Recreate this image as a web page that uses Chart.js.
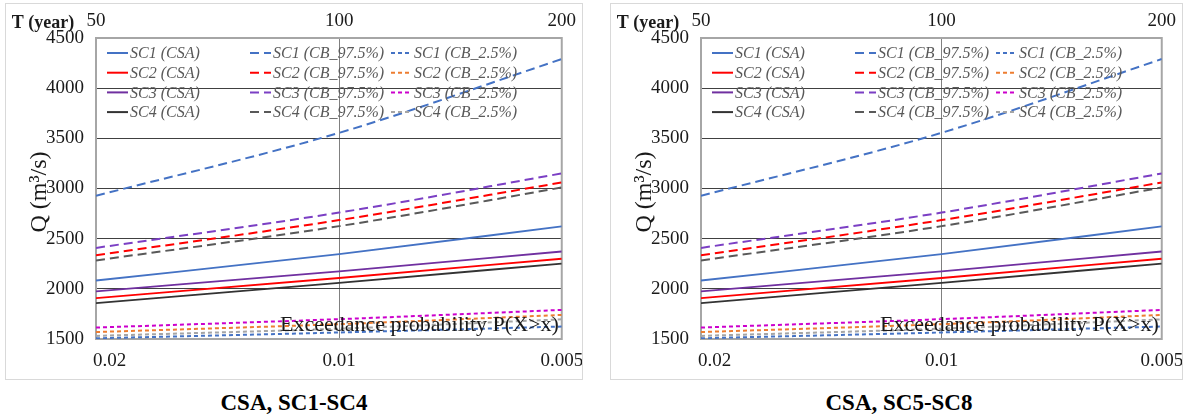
<!DOCTYPE html>
<html>
<head>
<meta charset="utf-8">
<script src="https://cdn.jsdelivr.net/npm/chart.js@4.4.1/dist/chart.umd.min.js"></script>
<style>
    body { margin: 0; background: #fff; width: 1187px; height: 414px; position: relative; overflow: hidden; }
    .panel { position: absolute; top: 3px; height: 377px; border: 1px solid #d9d9d9; box-sizing: border-box; background: #fff; }
    .panel canvas { display: block; }
    .caption { position: absolute; top: 390px; width: 578px; text-align: center; color: #000;
               font-family: 'Liberation Serif', 'Times New Roman', serif; font-weight: bold; font-size: 23px; }
</style>
</head>
<body>
<div class="panel" style="left:5px;width:578px"><canvas id="chart-left" width="576" height="375"></canvas></div>
<div class="panel" style="left:610px;width:573px"><canvas id="chart-right" width="571" height="375"></canvas></div>
<div class="caption" style="left:5px">CSA, SC1-SC4</div>
<div class="caption" style="left:610px">CSA, SC5-SC8</div>

<script>
// Exceedance probabilities (bottom axis) and matching return periods (top axis)
const probs = [0.02, 0.01, 0.005];
const probLabels = ['0.02', '0.01', '0.005'];
const returnPeriods = ['50', '100', '200'];

// Discharge Q (m3/s) read at P = 0.02, 0.01, 0.005
const sc1Csa = [2083, 2345, 2623];
const sc2Csa = [1907, 2108, 2300];
const sc3Csa = [1975, 2175, 2372];
const sc4Csa = [1857, 2060, 2252];

const sc1Upper = [2927, 3555, 4290];
const sc2Upper = [2335, 2685, 3060];
const sc3Upper = [2408, 2760, 3150];
const sc4Upper = [2283, 2625, 3010];

const sc1Lower = [1507, 1565, 1624];
const sc2Lower = [1569, 1648, 1740];
const sc3Lower = [1614, 1698, 1790];
const sc4Lower = [1531, 1603, 1696];

const FONT = "'Liberation Serif', 'Times New Roman', serif";

// inverse standard normal (Acklam) - the x axis is a normal probability scale
function normInv(p) {
    const a = [-3.969683028665376e+01, 2.209460984245205e+02, -2.759285104469687e+02, 1.383577518672690e+02, -3.066479806614716e+01, 2.506628277459239e+00];
    const b = [-5.447609879822406e+01, 1.615858368580409e+02, -1.556989798598866e+02, 6.680131188771972e+01, -1.328068155288572e+01];
    const c = [-7.784894002430293e-03, -3.223964580411365e-01, -2.400758277161838e+00, -2.549732539343734e+00, 4.374664141464968e+00, 2.938163982698783e+00];
    const d = [7.784695709041462e-03, 3.224671290700398e-01, 2.445134137142996e+00, 3.754408661907416e+00];
    const pl = 0.02425;
    if (p < pl) {
        const q = Math.sqrt(-2 * Math.log(p));
        return (((((c[0]*q+c[1])*q+c[2])*q+c[3])*q+c[4])*q+c[5]) / ((((d[0]*q+d[1])*q+d[2])*q+d[3])*q+1);
    }
    if (p > 1 - pl) return -normInv(1 - p);
    const q = p - 0.5, r = q * q;
    return (((((a[0]*r+a[1])*r+a[2])*r+a[3])*r+a[4])*r+a[5])*q / (((((b[0]*r+b[1])*r+b[2])*r+b[3])*r+b[4])*r+1);
}
const zOf = p => -normInv(p);

const series = [
    { label: 'SC1 (CSA)', values: sc1Csa, color: '#4472c4', group: 0, row: 0 },
    { label: 'SC2 (CSA)', values: sc2Csa, color: '#ff0000', group: 0, row: 1 },
    { label: 'SC3 (CSA)', values: sc3Csa, color: '#7030a0', group: 0, row: 2 },
    { label: 'SC4 (CSA)', values: sc4Csa, color: '#333333', group: 0, row: 3 },
    { label: 'SC1 (CB_97.5%)', values: sc1Upper, color: '#4472c4', group: 1, row: 0 },
    { label: 'SC2 (CB_97.5%)', values: sc2Upper, color: '#ff0000', group: 1, row: 1 },
    { label: 'SC3 (CB_97.5%)', values: sc3Upper, color: '#7b3fc4', group: 1, row: 2 },
    { label: 'SC4 (CB_97.5%)', values: sc4Upper, color: '#595959', group: 1, row: 3 },
    { label: 'SC1 (CB_2.5%)', values: sc1Lower, color: '#4472c4', group: 2, row: 0 },
    { label: 'SC2 (CB_2.5%)', values: sc2Lower, color: '#ed7d31', group: 2, row: 1 },
    { label: 'SC3 (CB_2.5%)', values: sc3Lower, color: '#cc00cc', group: 2, row: 2 },
    { label: 'SC4 (CB_2.5%)', values: sc4Lower, color: '#a5a5a5', group: 2, row: 3 }
];
const dashByGroup = [[], [9, 5], [4, 3]];

const extrasPlugin = {
    id: 'extras',
    beforeDatasetsDraw(chart) {
        const { ctx, chartArea: a } = chart;
        ctx.save();
        ctx.strokeStyle = '#a6a6a6';
        ctx.lineWidth = 2;
        ctx.strokeRect(a.left, a.top, a.right - a.left, a.bottom - a.top);
        ctx.restore();
    },
    afterDatasetsDraw(chart) {
        const { ctx, chartArea: a } = chart;
        const xs = chart.scales.x;
        ctx.save();

        // bottom tick labels (first one sits inside the plot like the original)
        ctx.fillStyle = '#1a1a1a';
        ctx.font = `19px ${FONT}`;
        ctx.textBaseline = 'middle';
        probs.forEach((p, i) => {
            ctx.textAlign = i === 0 ? 'left' : 'center';
            ctx.fillText(probLabels[i], xs.getPixelForValue(zOf(p)) - (i === 0 ? 3 : 0), a.bottom + 22);
        });

        // legend: 3 columns x 4 rows inside the plot
        const colX = [11, 154, 295];
        ctx.font = `italic 16px ${FONT}`;
        ctx.textAlign = 'left';
        chart.data.datasets.forEach((ds, i) => {
            const s = series[i];
            const x = a.left + colX[s.group];
            const y = a.top + 15 + s.row * 19.7;
            ctx.strokeStyle = ds.borderColor;
            ctx.lineWidth = 2;
            ctx.setLineDash(ds.borderDash);
            ctx.beginPath();
            ctx.moveTo(x, y);
            ctx.lineTo(x + 21, y);
            ctx.stroke();
            ctx.setLineDash([]);
            ctx.fillStyle = '#595959';
            ctx.fillText(ds.label, x + 23, y + 1);
        });

        // x title inside the plot
        ctx.fillStyle = '#1a1a1a';
        ctx.font = `22px ${FONT}`;
        ctx.textAlign = 'right';
        ctx.textBaseline = 'alphabetic';
        ctx.fillText('Exceedance probability P(X>x)', a.right - 3, a.bottom - 8);

        // top-left label for the return period axis
        ctx.font = `bold 18px ${FONT}`;
        ctx.textAlign = 'center';
        ctx.textBaseline = 'middle';
        ctx.fillText('T (year)', 37, 19);

        // y title
        ctx.translate(34, 188);
        ctx.rotate(-Math.PI / 2);
        ctx.font = `24px ${FONT}`;
        ctx.fillText('Q (m\u00B3/s)', 0, 0);
        ctx.restore();
    }
};

function initChart(canvasId) {
    const canvas = document.getElementById(canvasId);
    const zMin = zOf(probs[0]);
    const zMax = zOf(probs[probs.length - 1]);
    const tickValues = probs.map(p => ({ value: zOf(p) }));

    return new Chart(canvas.getContext('2d'), {
        type: 'line',
        data: {
            datasets: series.map(s => ({
                label: s.label,
                data: s.values.map((v, i) => ({ x: zOf(probs[i]), y: v })),
                borderColor: s.color,
                borderDash: dashByGroup[s.group],
                borderWidth: s.group === 0 ? 1.8 : 2,
                pointRadius: 0,
                fill: false,
                cubicInterpolationMode: 'monotone'
            }))
        },
        options: {
            responsive: false,
            animation: false,
            devicePixelRatio: 1,
            layout: { padding: { left: 0, top: 0, bottom: 0, right: canvas.width - 558 } },
            plugins: { legend: { display: false }, tooltip: { enabled: false } },
            scales: {
                x: {
                    type: 'linear',
                    position: 'bottom',
                    min: zMin,
                    max: zMax,
                    afterBuildTicks: scale => { scale.ticks = tickValues.map(t => ({ ...t })); },
                    afterFit: scale => { scale.height = 40; },
                    ticks: { display: false },
                    border: { display: false },
                    grid: {
                        drawTicks: false,
                        color: ctx => ctx.index === 1 ? '#808080' : 'rgba(0,0,0,0)',
                        lineWidth: 1
                    }
                },
                x2: {
                    type: 'linear',
                    position: 'top',
                    min: zMin,
                    max: zMax,
                    afterBuildTicks: scale => { scale.ticks = tickValues.map(t => ({ ...t })); },
                    afterFit: scale => { scale.height = 34; },
                    ticks: {
                        padding: 6,
                        color: '#1a1a1a',
                        font: { family: FONT, size: 19 },
                        maxRotation: 0,
                        callback: (v, i) => returnPeriods[i]
                    },
                    border: { display: false },
                    grid: { display: false, drawTicks: false }
                },
                y: {
                    min: 1500,
                    max: 4500,
                    afterFit: scale => { scale.width = 90; },
                    ticks: {
                        stepSize: 500,
                        padding: 12,
                        color: '#1a1a1a',
                        font: { family: FONT, size: 19 },
                        callback: v => String(v)
                    },
                    border: { display: false },
                    grid: { drawTicks: false, color: '#404040', lineWidth: 1 }
                }
            }
        },
        plugins: [extrasPlugin]
    });
}

initChart('chart-left');
initChart('chart-right');
</script>
</body>
</html>
